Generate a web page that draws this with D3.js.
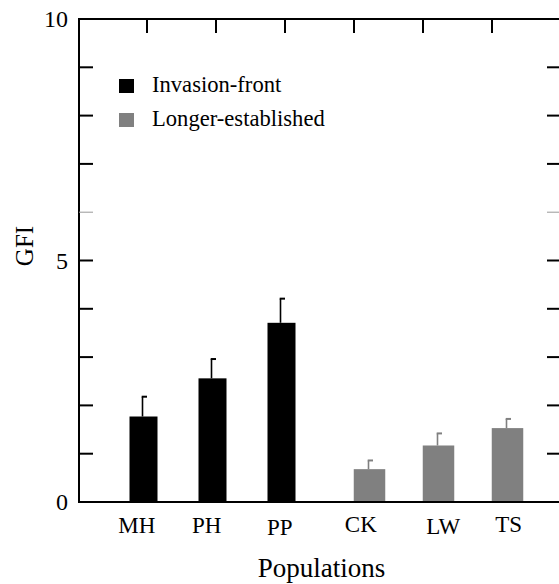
<!DOCTYPE html>
<html><head><meta charset="utf-8">
<script src="https://cdn.jsdelivr.net/npm/d3@7"></script>
<style>body{margin:0;background:#fff}svg{display:block}</style>
</head><body>
<svg id="c" width="559" height="584"></svg>
<script>
const categories = ["MH","PH","PP","CK","LW","TS"];
const groups = ["Invasion-front","Invasion-front","Invasion-front","Longer-established","Longer-established","Longer-established"];
const gfi = [1.77, 2.56, 3.71, 0.68, 1.17, 1.53];
const errUpper = [2.18, 2.96, 4.21, 0.86, 1.42, 1.72];
const yTickValues = [0,1,2,3,4,5,6,7,8,9,10];
const yTickLabels = [0,5,10];
const legendLabels = ["Invasion-front","Longer-established"];

const svg = d3.select("#c").attr("font-family","Liberation Serif, Times New Roman, serif");
const L = 79, T = 19, B = 502, R = 561;
const y = d3.scaleLinear().domain([0,10]).range([B,T]);
const x = d3.scalePoint().domain(categories).range([147,492]);
const color = d3.scaleOrdinal().domain(legendLabels).range(["#000000","#808080"]);
const off = {"Invasion-front":-3.5,"Longer-established":15.5};
const bw = {"Invasion-front":28,"Longer-established":31.5};
const labelNudge = [-10.2,-9.3,-5.3,6.8,20.3,16.7];
const labelBase = [533,533,535,532,534,532];

// bars
const data = categories.map((c,i)=>({c, i, g:groups[i], v:gfi[i], e:errUpper[i]}));
svg.selectAll("rect.bar").data(data).join("rect")
  .attr("x", d=>x(d.c)+off[d.g]-bw[d.g]/2)
  .attr("width", d=>bw[d.g])
  .attr("y", d=>y(d.v))
  .attr("height", d=>y(0)-y(d.v))
  .attr("fill", d=>color(d.g));
// error bars
const eb = svg.selectAll("g.err").data(data).join("g");
eb.append("line")
  .attr("x1", d=>x(d.c)+off[d.g]-1).attr("x2", d=>x(d.c)+off[d.g]-1)
  .attr("y1", d=>y(d.v)).attr("y2", d=>y(d.e))
  .attr("stroke", d=>color(d.g)).attr("stroke-width",1.6);
eb.append("line")
  .attr("x1", d=>x(d.c)+off[d.g]-1.8).attr("x2", d=>x(d.c)+off[d.g]+3.5)
  .attr("y1", d=>y(d.e)).attr("y2", d=>y(d.e))
  .attr("stroke", d=>color(d.g)).attr("stroke-width",2);

// frame
const ax = svg.append("g").attr("stroke","#000").attr("stroke-width",2).attr("fill","none");
ax.append("path").attr("d",`M${R},${T}H${L}V${B}H${R}`);
// y ticks left & right
yTickValues.filter(v=>v>0&&v<10).forEach(v=>{
  const faint = v===6;
  ax.append("line").attr("x1",L).attr("x2",L+14).attr("y1",y(v)).attr("y2",y(v))
    .attr("stroke",faint?"#999":"#000").attr("stroke-width",faint?1:2);
  ax.append("line").attr("x1",R-14).attr("x2",R).attr("y1",y(v)).attr("y2",y(v))
    .attr("stroke",faint?"#999":"#000").attr("stroke-width",faint?1:2);
});
// top ticks
categories.forEach(c=>{
  ax.append("line").attr("x1",x(c)).attr("x2",x(c)).attr("y1",T).attr("y2",T+14);
});

// y tick labels
svg.selectAll("text.yl").data(yTickLabels).join("text")
  .attr("x", 68).attr("y", d=>y(d)+8)
  .attr("text-anchor","end").attr("font-size",24).text(d=>d);
// x labels
svg.selectAll("text.xl").data(data).join("text")
  .attr("x", d=>x(d.c)+labelNudge[d.i]).attr("y", d=>labelBase[d.i])
  .attr("text-anchor","middle").attr("font-size",23).text(d=>d.c);
// axis titles
svg.append("text").attr("x",321.5).attr("y",577).attr("text-anchor","middle")
  .attr("font-size",27).text("Populations");
svg.append("text").attr("transform","translate(33,246) rotate(-90)")
  .attr("text-anchor","middle").attr("font-size",25).text("GFI");

// legend
const lg = svg.selectAll("g.lg").data(legendLabels).join("g")
  .attr("transform",(d,i)=>`translate(119,${79+i*34})`);
lg.append("rect").attr("width",15).attr("height",14).attr("fill",d=>color(d));
lg.append("text").attr("x",33).attr("y",13).attr("font-size",22.6).text(d=>d);
</script>
</body></html>
